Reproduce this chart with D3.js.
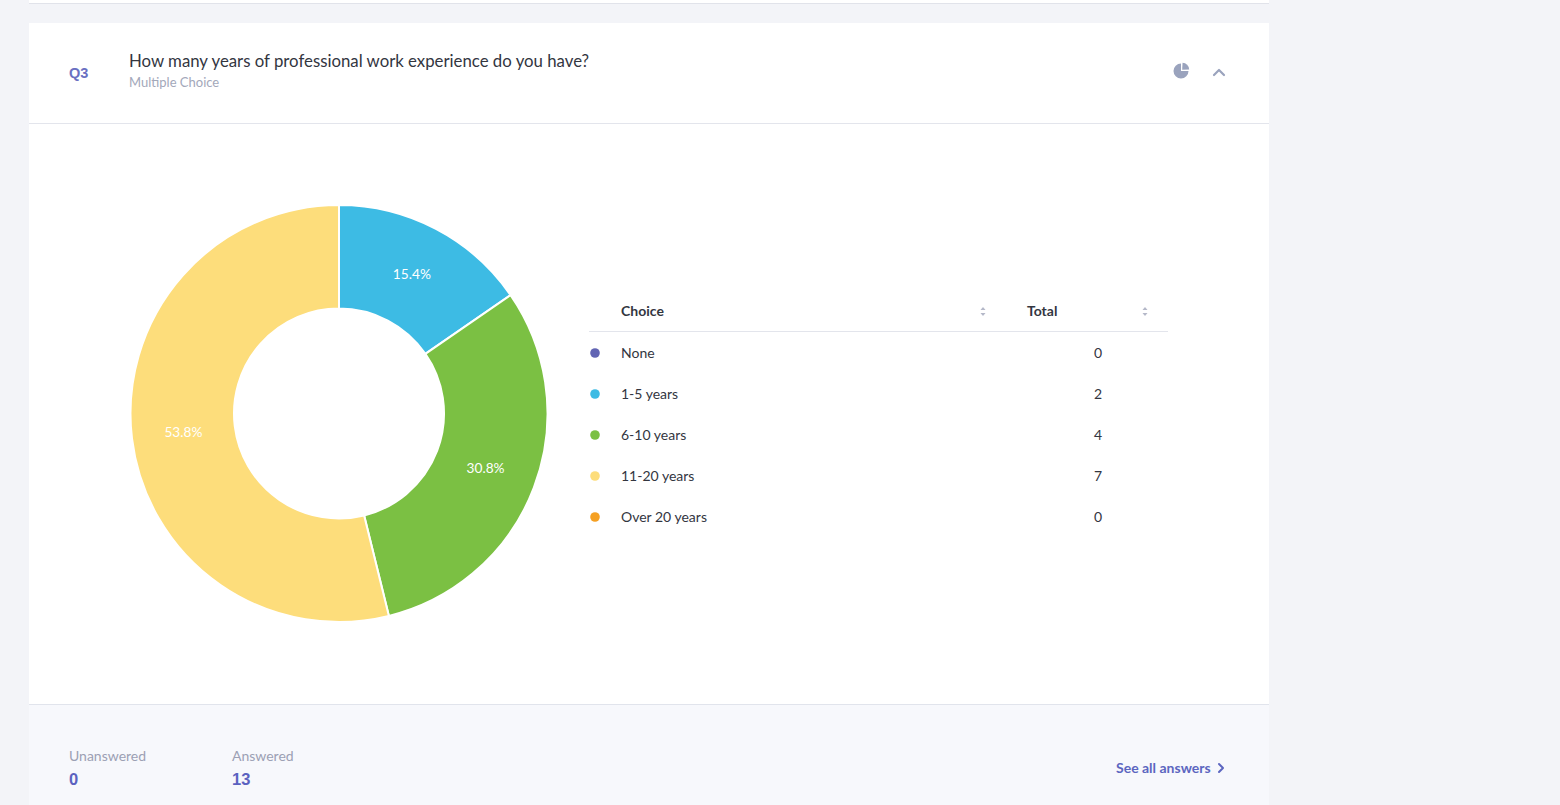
<!DOCTYPE html>
<html><head><meta charset="utf-8">
<script src="https://cdn.jsdelivr.net/npm/d3@7/dist/d3.min.js"></script>
<style>
html,body{margin:0;padding:0;background:#f3f4f8;overflow:hidden;}
svg{display:block;font-family:Lato,"Noto Sans",sans-serif;}
</style></head>
<body>
<svg id="c" width="1560" height="805"></svg>
<script>
const categories = ["None","1-5 years","6-10 years","11-20 years","Over 20 years"];
const totals = [0,2,4,7,0];
const colors = ["#6164b3","#3dbbe4","#7bc043","#fddd7b","#f5a023"];
const questionNo = "Q3";
const questionTitle = "How many years of professional work experience do you have?";
const questionType = "Multiple Choice";
const unanswered = 0;
const answered = 13;

const svg = d3.select("#c");
// previous card bottom border
svg.append("rect").attr("x",29).attr("y",0).attr("width",1240).attr("height",3).attr("fill","#ffffff");
svg.append("line").attr("x1",29).attr("x2",1269).attr("y1",3.5).attr("y2",3.5).attr("stroke","#e1e3ea");

// card
svg.append("rect").attr("x",29).attr("y",23).attr("width",1240).attr("height",782).attr("fill","#ffffff");
svg.append("line").attr("x1",29).attr("x2",1269).attr("y1",123.5).attr("y2",123.5).attr("stroke","#e3e5ec");
svg.append("rect").attr("x",29).attr("y",705).attr("width",1240).attr("height",100).attr("fill","#f7f8fc");
svg.append("line").attr("x1",29).attr("x2",1269).attr("y1",704.5).attr("y2",704.5).attr("stroke","#e1e4ec");

// header
svg.append("text").attr("x",69).attr("y",78).text(questionNo)
  .attr("font-family","'Liberation Sans',Arial,sans-serif")
  .attr("font-size",14.5).attr("font-weight",700).attr("fill","#6a70c2");
svg.append("text").attr("x",129).attr("y",67).text(questionTitle)
  .attr("font-size",16.8).attr("fill","#33363f");
svg.append("text").attr("x",129).attr("y",87).text(questionType)
  .attr("font-size",13).attr("fill","#a3a8ba");

// pie icon
const ic = svg.append("g").attr("transform","translate(1181,71)");
ic.append("path").attr("d", d3.arc()({innerRadius:0,outerRadius:7.5,startAngle:Math.PI/2,endAngle:2*Math.PI})).attr("fill","#9aa3bd");
ic.append("path").attr("transform","translate(1.2,-1.2)").attr("d", d3.arc()({innerRadius:0,outerRadius:7,startAngle:0.05,endAngle:Math.PI/2-0.05})).attr("fill","#9aa3bd");
// chevron up
svg.append("path").attr("d","M1214,75 L1219,70 L1224,75").attr("fill","none").attr("stroke","#9aa3bd").attr("stroke-width",2.2).attr("stroke-linecap","round").attr("stroke-linejoin","round");

// donut
const cx = 339, cy = 413.5, R = 208.5, r = 105;
const pie = d3.pie().sort(null).value(d=>d.v);
const data = categories.map((c,i)=>({c, v: totals[i], col: colors[i]}));
const arcs = pie(data);
const arc = d3.arc().innerRadius(r).outerRadius(R);
const g = svg.append("g").attr("transform",`translate(${cx},${cy})`);
g.selectAll("path").data(arcs.filter(a=>a.data.v>0)).join("path")
  .attr("d",arc).attr("fill",d=>d.data.col).attr("stroke","#ffffff").attr("stroke-width",2);
const sum = d3.sum(totals);
g.selectAll("text").data(arcs.filter(a=>a.data.v>0)).join("text")
  .attr("transform",d=>`translate(${arc.centroid(d)})`)
  .attr("text-anchor","middle").attr("dy","0.3em")
  .attr("font-size",13.7).attr("fill","#ffffff")
  .text(d=>(d.data.v/sum*100).toFixed(1)+"%");

// table
const rowY = d3.scalePoint().domain(categories).range([353,517]);
svg.append("text").attr("x",621).attr("y",316).text("Choice").attr("font-size",14).attr("font-weight",700).attr("fill","#33363f");
svg.append("text").attr("x",1027).attr("y",316).text("Total").attr("font-size",14).attr("font-weight",700).attr("fill","#33363f");
[983,1145].forEach(x=>{
  svg.append("path").attr("d",`M${x-2.5},${310} L${x},${307} L${x+2.5},${310} Z`).attr("fill","#b4b8c8");
  svg.append("path").attr("d",`M${x-2.5},${313} L${x},${316} L${x+2.5},${313} Z`).attr("fill","#b4b8c8");
});
svg.append("line").attr("x1",589).attr("x2",1168).attr("y1",331.5).attr("y2",331.5).attr("stroke","#e3e5ec");
const rows = svg.append("g").selectAll("g").data(data).join("g")
  .attr("transform",d=>`translate(0,${rowY(d.c)})`);
rows.append("circle").attr("cx",595).attr("cy",0).attr("r",4.8).attr("fill",d=>d.col);
rows.append("text").attr("x",621).attr("dy","0.35em").attr("font-size",14).attr("fill","#33363f").text(d=>d.c);
rows.append("text").attr("x",1098).attr("dy","0.35em").attr("text-anchor","middle").attr("font-size",14).attr("fill","#33363f").text(d=>d.v);

// footer
svg.append("text").attr("x",69).attr("y",761).text("Unanswered").attr("font-size",14).attr("fill","#9ca0b4");
svg.append("text").attr("x",69).attr("y",785).text(unanswered).attr("font-family","'Liberation Sans',Arial,sans-serif").attr("font-size",16.5).attr("font-weight",700).attr("fill","#5b62c0");
svg.append("text").attr("x",232).attr("y",761).text("Answered").attr("font-size",14).attr("fill","#9ca0b4");
svg.append("text").attr("x",232).attr("y",785).text(answered).attr("font-family","'Liberation Sans',Arial,sans-serif").attr("font-size",16.5).attr("font-weight",700).attr("fill","#5b62c0");
svg.append("text").attr("x",1116).attr("y",773).text("See all answers").attr("font-size",14).attr("font-weight",700).attr("fill","#5c66c0");
svg.append("path").attr("d","M1219,764 L1223,768 L1219,772").attr("fill","none").attr("stroke","#5c66c0").attr("stroke-width",2).attr("stroke-linecap","round").attr("stroke-linejoin","round");
</script>
</body></html>
